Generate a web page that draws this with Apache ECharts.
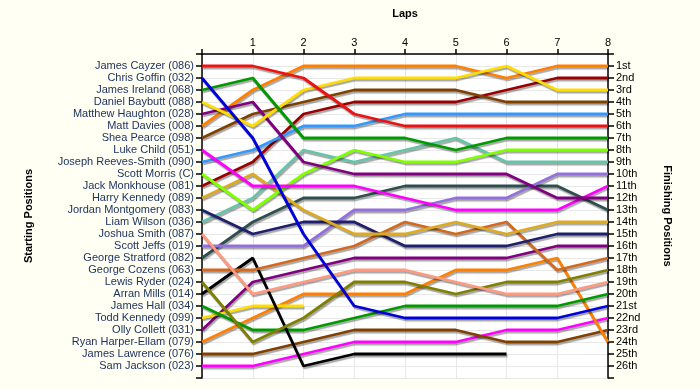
<!DOCTYPE html>
<html>
<head>
<meta charset="utf-8">
<script src="https://cdn.jsdelivr.net/npm/echarts@6/dist/echarts.min.js"></script>
<style>
  html, body { margin: 0; padding: 0; background: #fffff4; }
  #chart { width: 700px; height: 390px; }
</style>
</head>
<body>
<div id="chart"></div>
<script>
// ---- data ----
const lapNumbers = [0, 1, 2, 3, 4, 5, 6, 7, 8];
const lapTickLabels = ['', '1', '2', '3', '4', '5', '6', '7', '8'];
const driverNames = [
  'James Cayzer (086)', 'Chris Goffin (032)', 'James Ireland (068)', 'Daniel Baybutt (088)',
  'Matthew Haughton (028)', 'Matt Davies (008)', 'Shea Pearce (098)', 'Luke Child (051)',
  'Joseph Reeves-Smith (090)', 'Scott Morris (C)', 'Jack Monkhouse (081)', 'Harry Kennedy (089)',
  'Jordan Montgomery (083)', 'Liam Wilson (036)', 'Joshua Smith (087)', 'Scott Jeffs (019)',
  'George Stratford (082)', 'George Cozens (063)', 'Lewis Ryder (024)', 'Arran Mills (014)',
  'James Hall (034)', 'Todd Kennedy (099)', 'Olly Collett (031)', 'Ryan Harper-Ellam (079)',
  'James Lawrence (076)', 'Sam Jackson (023)'
];
const finishLabels = [
  '1st', '2nd', '3rd', '4th', '5th', '6th', '7th', '8th', '9th', '10th', '11th', '12th', '13th',
  '14th', '15th', '16th', '17th', '18th', '19th', '20th', '21st', '22nd', '23rd', '24th', '25th', '26th'
];

// position of each driver at laps 0..8 (null = retired)
const pos01 = [1, 1, 2, 5, 6, 6, 6, 6, 6];
const pos02 = [2, 7, 15, 21, 22, 22, 22, 22, 21];
const pos03 = [3, 2, 7, 7, 7, 8, 7, 7, 7];
const pos04 = [4, 6, 3, 2, 2, 2, 1, 3, 3];
const pos05 = [5, 4, 9, 10, 10, 10, 10, 12, 12];
const pos06 = [6, 3, 1, 1, 1, 1, 2, 1, 1];
const pos07 = [7, 5, 4, 3, 3, 3, 4, 4, 4];
const pos08 = [8, 11, 11, 11, 12, 13, 13, 13, 11];
const pos09 = [9, 8, 6, 6, 5, 5, 5, 5, 5];
const pos10 = [10, 13, 10, 8, 9, 9, 8, 8, 8];
const pos11 = [11, 9, 5, 4, 4, 4, 3, 2, 2];
const pos12 = [12, 10, 13, 15, 15, 14, 15, 14, 14];
const pos13 = [13, 15, 14, 14, 16, 16, 16, 15, 15];
const pos14 = [14, 12, 8, 9, 8, 7, 9, 9, 9];
const pos15 = [15, 20, 19, 18, 18, 19, 20, 20, 19];
const pos16 = [16, 16, 16, 13, 13, 12, 12, 10, 10];
const pos17 = [17, 14, 12, 12, 11, 11, 11, 11, 13];
const pos18 = [18, 18, 17, 16, 14, 15, 14, 18, 17];
const pos19 = [19, 24, 22, 19, 19, 20, 19, 19, 18];
const pos20 = [20, 17, 26, 25, 25, 25, 25, null, null];
const pos21 = [21, 23, 23, 22, 21, 21, 21, 21, 20];
const pos22 = [22, 21, 21, null, null, null, null, null, null];
const pos23 = [23, 19, 18, 17, 17, 17, 17, 16, 16];
const pos24 = [24, 22, 20, 20, 20, 18, 18, 17, 24];
const pos25 = [25, 25, 24, 23, 23, 23, 24, 24, 23];
const pos26 = [26, 26, 25, 24, 24, 24, 23, 23, 22];

const allPositions = [pos01, pos02, pos03, pos04, pos05, pos06, pos07, pos08, pos09, pos10,
  pos11, pos12, pos13, pos14, pos15, pos16, pos17, pos18, pos19, pos20,
  pos21, pos22, pos23, pos24, pos25, pos26];

const driverColors = ['#ee1111', '#0000dd', '#009a00', '#ffdd00', '#800080', '#ff8000', '#804000',
  '#ff00ff', '#3399ff', '#80ff00', '#990000', '#ddaa22', '#1f1f6e', '#66c4a8', '#ff9a80',
  '#9370db', '#2f4f4f', '#d2691e', '#808000', '#000000',
  '#009a00', '#ffdd00', '#800080', '#ff8000', '#804000', '#ff00ff'];

// ---- chart ----
const chart = echarts.init(document.getElementById('chart'), null, { renderer: 'canvas' });

const series = allPositions.map((arr, i) => ({
  type: 'line',
  name: driverNames[i],
  data: lapNumbers.map((lap, j) => [lap, arr[j]]).filter(d => d[1] !== null),
  symbol: 'none',
  silent: true,
  animation: false,
  lineStyle: {
    color: driverColors[i],
    width: 2.8,
    shadowColor: 'rgba(0,0,0,0.35)',
    shadowOffsetX: 1,
    shadowOffsetY: 2,
    shadowBlur: 1
  },
  z: 2 + (26 - i)
}));

const fam = 'Liberation Sans, Arial, sans-serif';
const axisFont = { fontFamily: fam, fontSize: 11 };
const titleFont = { fontFamily: fam, fontSize: 11, fontWeight: 'bold', color: '#000' };

chart.setOption({
  backgroundColor: '#fffff4',
  animation: false,
  grid: {
    left: 202, right: 92, top: 54, bottom: 12,
    show: true, backgroundColor: '#ffffff', borderWidth: 0
  },
  xAxis: {
    type: 'value', position: 'top', min: 0, max: 8, interval: 1,
    name: 'Laps', nameLocation: 'middle', nameGap: 35,
    nameTextStyle: titleFont,
    axisLine: { show: true, lineStyle: { color: '#000', width: 1.5 } },
    axisTick: { show: true, length: 5, lineStyle: { color: '#000', width: 1.5 } },
    axisLabel: Object.assign({ color: '#000', margin: 6, formatter: v => lapTickLabels[v] || '' }, axisFont),
    splitLine: { show: true, lineStyle: { color: '#e8e8e8', width: 1 } }
  },
  yAxis: [{
    type: 'value', position: 'left', inverse: true, min: 0, max: 27, interval: 1,
    name: 'Starting Positions', nameLocation: 'middle', nameGap: 168, nameRotate: 90,
    nameTextStyle: titleFont,
    axisLine: { show: true, onZero: false, lineStyle: { color: '#000', width: 1.5 } },
    axisTick: { show: true, length: 6, lineStyle: { color: '#000', width: 1.5 } },
    axisLabel: Object.assign({ color: '#1f3460', margin: 8, formatter: v => driverNames[v - 1] || '' }, axisFont),
    splitLine: { show: true, lineStyle: { color: '#e8e8e8', width: 1 } }
  }, {
    type: 'value', position: 'right', inverse: true, min: 0, max: 27, interval: 1,
    name: 'Finishing Positions', nameLocation: 'middle', nameGap: 54, nameRotate: -90,
    nameTextStyle: titleFont,
    axisLine: { show: true, onZero: false, lineStyle: { color: '#000', width: 1.5 } },
    axisTick: { show: true, length: 6, lineStyle: { color: '#000', width: 1.5 } },
    axisLabel: Object.assign({ color: '#000', margin: 8, formatter: v => finishLabels[v - 1] || '' }, axisFont),
    splitLine: { show: false }
  }],
  series: series
});
</script>
</body>
</html>
